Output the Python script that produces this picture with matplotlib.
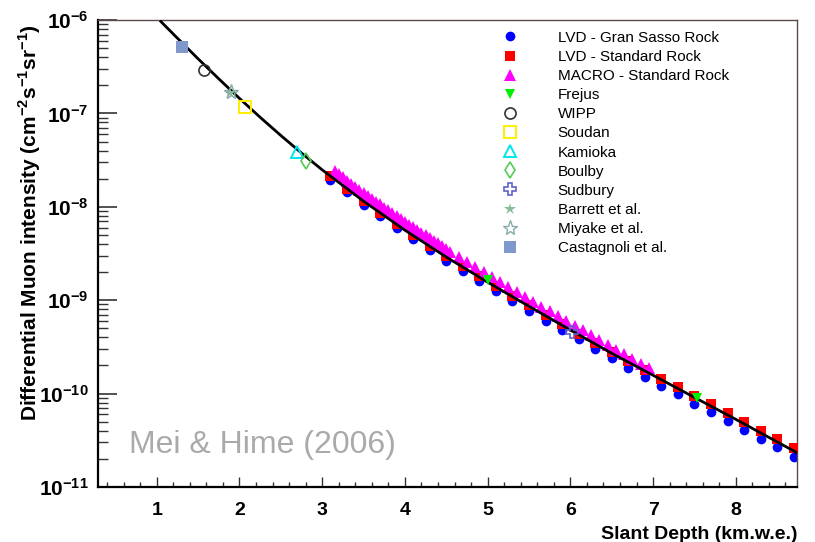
import numpy as np
import matplotlib
matplotlib.use("Agg")
import matplotlib.pyplot as plt
from matplotlib.ticker import MultipleLocator, LogLocator, NullFormatter

plt.rcParams['font.family'] = ['Liberation Sans', 'DejaVu Sans']
plt.rcParams['mathtext.fontset'] = 'custom'
plt.rcParams['mathtext.rm'] = 'Liberation Sans'
plt.rcParams['mathtext.bf'] = 'Liberation Sans:bold'

# fit curve (Mei & Hime)
fit_depth = [1.05, 1.25, 1.5, 1.75, 2.0, 2.25, 2.5, 2.75, 3.0, 3.5, 4.0, 4.5,
             5.0, 5.5, 6.0, 6.5, 7.0, 7.5, 8.0, 8.75]
fit_int = [9.66e-7, 6.40e-7, 3.85e-7, 2.35e-7, 1.45e-7, 9.1e-8, 5.81e-8, 3.77e-8,
           2.49e-8, 1.15e-8, 5.62e-9, 2.90e-9, 1.56e-9, 8.6e-10, 4.8e-10, 2.7e-10,
           1.57e-10, 9.1e-11, 5.3e-11, 2.3e-11]

# LVD depths
lvd_depth = [3.1, 3.3, 3.5, 3.7, 3.9, 4.1, 4.3, 4.5, 4.7, 4.9, 5.1, 5.3, 5.5, 5.7,
             5.9, 6.1, 6.3, 6.5, 6.7, 6.9, 7.1, 7.3, 7.5, 7.7, 7.9, 8.1, 8.3, 8.5, 8.7]
lvd_gs = [1.95e-8, 1.43e-8, 1.05e-8, 7.9e-9, 5.9e-9, 4.5e-9, 3.45e-9, 2.65e-9,
          2.05e-9, 1.60e-9, 1.25e-9, 9.8e-10, 7.7e-10, 6.05e-10, 4.8e-10, 3.8e-10,
          3.0e-10, 2.38e-10, 1.89e-10, 1.50e-10, 1.22e-10, 9.8e-11, 7.8e-11,
          6.3e-11, 5.05e-11, 4.1e-11, 3.3e-11, 2.65e-11, 2.12e-11]
lvd_std = [2.15e-8, 1.56e-8, 1.15e-8, 8.6e-9, 6.5e-9, 4.95e-9, 3.8e-9, 2.95e-9,
           2.3e-9, 1.8e-9, 1.41e-9, 1.11e-9, 8.8e-10, 6.95e-10, 5.5e-10, 4.4e-10,
           3.5e-10, 2.8e-10, 2.23e-10, 1.78e-10, 1.45e-10, 1.18e-10, 9.5e-11,
           7.7e-11, 6.2e-11, 5.0e-11, 4.0e-11, 3.25e-11, 2.6e-11]

macro_depth = [3.15, 3.20, 3.25, 3.30, 3.35, 3.40, 3.45, 3.50, 3.55, 3.60, 3.65,
               3.70, 3.75, 3.80, 3.85, 3.90, 3.95, 4.00, 4.05, 4.10, 4.15, 4.20,
               4.25, 4.30, 4.35, 4.40, 4.45, 4.50, 4.55, 4.65, 4.75, 4.85, 4.95,
               5.05, 5.15, 5.25, 5.35, 5.45, 5.55, 5.65, 5.75, 5.85, 5.95, 6.05,
               6.15, 6.25, 6.35, 6.45, 6.55, 6.65, 6.75, 6.85, 6.95]
macro_int = [2.41e-8, 2.23e-8, 2.07e-8, 1.91e-8, 1.77e-8, 1.64e-8, 1.53e-8, 1.42e-8,
             1.31e-8, 1.22e-8, 1.13e-8, 1.06e-8, 9.82e-9, 9.15e-9, 8.54e-9, 7.95e-9,
             7.43e-9, 6.93e-9, 6.46e-9, 6.03e-9, 5.64e-9, 5.28e-9, 4.94e-9, 4.62e-9,
             4.32e-9, 4.05e-9, 3.78e-9, 3.54e-9, 3.32e-9, 2.93e-9, 2.57e-9, 2.28e-9,
             2.01e-9, 1.77e-9, 1.57e-9, 1.39e-9, 1.23e-9, 1.09e-9, 9.68e-10, 8.56e-10,
             7.59e-10, 6.75e-10, 6.0e-10, 5.32e-10, 4.74e-10, 4.21e-10, 3.74e-10,
             3.33e-10, 2.96e-10, 2.63e-10, 2.34e-10, 2.09e-10, 1.86e-10]

frejus_depth = [5.0, 7.53]
frejus_int = [1.66e-9, 8.9e-11]
sudbury_depth = [6.02]
sudbury_int = [4.6e-10]
wipp_depth = [1.57]
wipp_int = [2.9e-7]
castagnoli_depth = [1.31]
castagnoli_int = [5.2e-7]
barrett_depth = [1.89]
barrett_int = [1.67e-7]
miyake_depth = [1.90]
miyake_int = [1.70e-7]
soudan_depth = [2.07]
soudan_int = [1.18e-7]
kamioka_depth = [2.70]
kamioka_int = [3.9e-8]
boulby_depth = [2.80]
boulby_int = [3.1e-8]

fig = plt.figure(figsize=(8.15, 5.42), dpi=100)
ax = fig.add_axes([0.1202, 0.1015, 0.8578, 0.8615])

ax.plot(fit_depth, fit_int, color='black', lw=2, zorder=5)

h = []
h.append(ax.plot(lvd_depth, lvd_gs, 'o', color='#0000ff', ms=7, mew=0, zorder=2,
                 label='LVD - Gran Sasso Rock')[0])
h.append(ax.plot(lvd_depth, lvd_std, 's', color='#ff0000', ms=7, mew=0, zorder=3,
                 label='LVD - Standard Rock')[0])
h.append(ax.plot(macro_depth, macro_int, '^', color='#ff00ff', ms=8, mew=0, zorder=4,
                 label='MACRO - Standard Rock')[0])
h.append(ax.plot(frejus_depth, frejus_int, 'v', color='#00ee00', ms=7, mew=0, zorder=6,
                 label='Frejus')[0])
h.append(ax.plot(wipp_depth, wipp_int, 'o', mfc='none', mec='#333333', ms=8, mew=1.2,
                 zorder=6, label='WIPP')[0])
h.append(ax.plot(soudan_depth, soudan_int, 's', mfc='none', mec='#ffee00', ms=9, mew=1.4,
                 zorder=6, label='Soudan')[0])
h.append(ax.plot(kamioka_depth, kamioka_int, '^', mfc='none', mec='#00e5ee', ms=9, mew=1.4,
                 zorder=6, label='Kamioka')[0])
h.append(ax.plot(boulby_depth, boulby_int, 'd', mfc='none', mec='#55cc55', ms=8, mew=1.2,
                 zorder=6, label='Boulby')[0])
h.append(ax.plot(sudbury_depth, sudbury_int, 'P', mfc='none', mec='#6060d0', ms=9, mew=1.2,
                 zorder=6, label='Sudbury')[0])
h.append(ax.plot(barrett_depth, barrett_int, '*', color='#88bb99', ms=9, mew=0,
                 zorder=6, label='Barrett et al.')[0])
h.append(ax.plot(miyake_depth, miyake_int, '*', mfc='none', mec='#88aaaa', ms=11, mew=1.0,
                 zorder=6, label='Miyake et al.')[0])
h.append(ax.plot(castagnoli_depth, castagnoli_int, 's', color='#7f99cc', ms=8, mew=0,
                 zorder=6, label='Castagnoli et al.')[0])

leg = ax.legend(handles=h, loc='upper left', bbox_to_anchor=(0.579, 0.977),
                frameon=False, fontsize=11, handlelength=0.9, handletextpad=2.7,
                labelspacing=0.335, borderpad=0, borderaxespad=0)

ax.set_yscale('log')
ax.set_xlim(0.29, 8.74)
ax.set_ylim(1e-11, 1e-6)

ax.set_xticks(range(1, 9))
ax.set_xticklabels([str(i) for i in range(1, 9)], fontweight='bold', fontsize=14)
ax.xaxis.set_minor_locator(MultipleLocator(0.2))
yt = [1e-11, 1e-10, 1e-9, 1e-8, 1e-7, 1e-6]
ax.set_yticks(yt)
ax.set_yticklabels([r'$\mathbf{10^{%d}}$' % int(np.log10(v)) for v in yt], fontsize=15)
ax.yaxis.set_minor_locator(LogLocator(base=10, subs=np.arange(2, 10)))
ax.yaxis.set_minor_formatter(NullFormatter())

ax.tick_params(axis='y', which='major', direction='in', length=14, width=1.2,
               color='#333333', pad=7, right=False)
ax.tick_params(axis='y', which='minor', direction='in', length=7, width=1.0,
               color='#333333', right=False)
ax.tick_params(axis='x', which='major', direction='in', length=7, width=1.0,
               color='#333333', pad=11, top=False)
ax.tick_params(axis='x', which='minor', direction='in', length=3.5, width=1.0,
               color='#333333', top=False)

for s in ['left', 'bottom']:
    ax.spines[s].set_color('black')
    ax.spines[s].set_linewidth(1.6)
for s in ['top', 'right']:
    ax.spines[s].set_color('#5a4a4a')
    ax.spines[s].set_linewidth(1.0)

ax.set_ylabel(r'Differential Muon intensity (cm$^{\mathbf{-2}}$s$^{\mathbf{-1}}$sr$^{\mathbf{-1}}$)',
              fontsize=15, fontweight='bold')
ax.yaxis.set_label_coords(-0.079, 0.567)
ax.set_xlabel('Slant Depth (km.w.e.)', fontsize=14, fontweight='bold')
ax.xaxis.set_label_coords(1.0, -0.083)
ax.xaxis.label.set_horizontalalignment('right')

ax.text(0.044, 0.09, 'Mei & Hime (2006)', transform=ax.transAxes, fontsize=23,
        color='#aaaaaa', va='center', ha='left')

fig.savefig('out.png', dpi=100)
